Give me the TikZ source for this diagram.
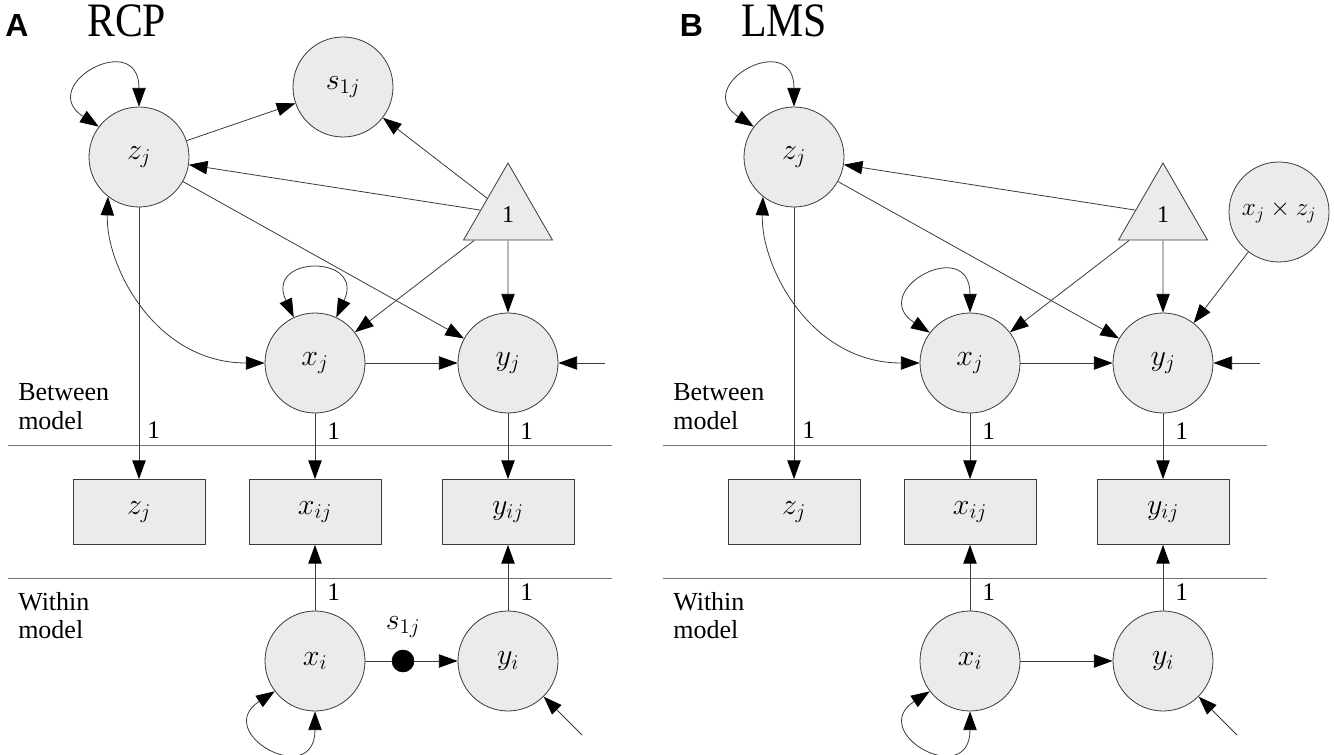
\RequirePackage{fix-cm}
\documentclass[tikz,border=0pt]{standalone}
\usepackage{fontspec}
\setmainfont{Liberation Serif}
\newfontfamily\labsans{Liberation Sans}
\usetikzlibrary{arrows.meta,shapes.geometric}
\definecolor{nodefill}{HTML}{EBEBEB}
\definecolor{edgecol}{HTML}{3A3A3A}
\definecolor{sepcol}{HTML}{707070}
\newcommand\mathsz{\fontsize{22.5pt}{25pt}\selectfont}
\begin{document}
\begin{tikzpicture}[x=0.75pt,y=0.75pt,
  lat/.style={circle,draw=edgecol,fill=nodefill,minimum size=75pt,inner sep=0pt,font=\mathsz,line width=0.6pt},
  obs/.style={rectangle,draw=edgecol,fill=nodefill,minimum width=99pt,minimum height=48.75pt,inner sep=0pt,font=\mathsz,line width=0.6pt},
  onetri/.style={regular polygon,regular polygon sides=3,draw=edgecol,fill=nodefill,minimum size=77.1pt,inner sep=0pt,font=\fontsize{18pt}{20pt}\selectfont,line width=0.6pt},
  arr/.style={draw=edgecol,line width=0.6pt,-{Triangle[length=14pt,width=10pt,color=black]}},
  darr/.style={draw=edgecol,line width=0.6pt,{Triangle[length=14pt,width=10pt,color=black]}-{Triangle[length=14pt,width=10pt,color=black]}},
  lineonly/.style={draw=edgecol,line width=0.6pt},
  sepline/.style={draw=sepcol,line width=0.6pt},
  onelab/.style={anchor=west,inner sep=0pt,xshift=9pt,font=\fontsize{19pt}{21pt}\selectfont},
  lvl/.style={anchor=base west,inner sep=0pt,font=\fontsize{19.5pt}{21pt}\selectfont},
  panlab/.style={anchor=base,inner sep=0pt,font=\labsans\bfseries\fontsize{24pt}{26pt}\selectfont},
  pantitle/.style={anchor=base west,inner sep=0pt,font=\fontsize{36pt}{38pt}\selectfont},
  dotnode/.style={circle,fill=black,draw=black,minimum size=16.5pt,inner sep=0pt}
]
\useasboundingbox (0,0) rectangle (1334,-755);

% ---------------- Panel A ----------------
\node[panlab] (a-lab) at (17,-37) {A};
\node[pantitle] (a-title) at (87,-37) {\scalebox{0.87}[1]{RCP}};

\node[lat] (a-zj) at (139,-157) {$z_j$};
\node[lat] (a-s) at (343,-87) {$s_{1j}$};
\node[onetri] (a-one) at (508,-214.4) {1};
\node[lat] (a-xj) at (315,-363) {$x_j$};
\node[lat] (a-yj) at (508,-363) {$y_j$};
\node[obs] (a-zr) at (139,-512) {$z_j$};
\node[obs] (a-xr) at (315,-512) {$x_{ij}$};
\node[obs] (a-yr) at (508,-512) {$y_{ij}$};
\node[lat] (a-xi) at (315,-661) {$x_i$};
\node[lat] (a-yi) at (508,-661) {$y_i$};
\node[dotnode] (a-dot) at (403,-661) {};
\node[font=\mathsz,inner sep=0pt] (a-sl) at (403,-627) {$s_{1j}$};
\coordinate (a-ryj) at (605,-363);
\coordinate (a-ryi) at (582,-735);

\node[lvl] (a-b1) at (18,-400) {Between};
\node[lvl] (a-b2) at (18,-429) {model};
\node[lvl] (a-w1) at (18,-610) {Within};
\node[lvl] (a-w2) at (18,-638) {model};
\draw[sepline] (8,-445) -- (612,-445);
\draw[sepline] (8,-578) -- (612,-578);

\draw[darr] (a-zj.143) to[out=147,in=90,out distance=57pt,in distance=59pt] (a-zj.90);
\draw[arr] (a-zj) -- (a-s);
\draw[arr] (a-one) -- (a-s);
\draw[arr] (a-one) -- (a-zj);
\draw[arr] (a-one) -- (a-xj);
\draw[arr] (a-one) -- (a-yj);
\draw[arr] (a-zj) -- (a-yj);
\draw[darr] (a-zj.232) to[out=-92,in=180,out distance=52pt,in distance=82pt] (a-xj.west);
\draw[darr] (a-xj.115) to[out=115,in=65,out distance=52pt,in distance=52pt] (a-xj.65);
\draw[arr] (a-xj) -- (a-yj);
\draw[arr] (a-ryj) -- (a-yj);
\draw[arr] (a-zj) -- node[onelab,pos=0.82,xshift=-3pt]{1} (a-zr);
\draw[arr] (a-xj) -- node[onelab,pos=0.27]{1} (a-xr);
\draw[arr] (a-yj) -- node[onelab,pos=0.27]{1} (a-yr);
\draw[arr] (a-xi) -- node[onelab,pos=0.28]{1} (a-xr);
\draw[arr] (a-yi) -- node[onelab,pos=0.28]{1} (a-yr);
\draw[lineonly] (a-xi) -- (a-dot);
\draw[arr] (a-dot) -- (a-yi);
\draw[darr] (a-xi.217) to[out=213,in=270,out distance=57pt,in distance=59pt] (a-xi.270);
\draw[arr] (a-ryi) -- (a-yi);

% ---------------- Panel B ----------------
\begin{scope}[shift={(655,0)}]
\node[panlab] (b-lab) at (36.5,-37) {B};
\node[pantitle] (b-title) at (86,-37) {\scalebox{0.87}[1]{LMS}};

\node[lat] (b-zj) at (139,-157) {$z_j$};
\node[onetri] (b-one) at (508,-214.4) {1};
\node[lat,font=\fontsize{19pt}{21pt}\selectfont] (b-xz) at (624,-212) {$x_j \times z_j$};
\node[lat] (b-xj) at (315,-363) {$x_j$};
\node[lat] (b-yj) at (508,-363) {$y_j$};
\node[obs] (b-zr) at (139,-512) {$z_j$};
\node[obs] (b-xr) at (315,-512) {$x_{ij}$};
\node[obs] (b-yr) at (508,-512) {$y_{ij}$};
\node[lat] (b-xi) at (315,-661) {$x_i$};
\node[lat] (b-yi) at (508,-661) {$y_i$};
\coordinate (b-ryj) at (605,-363);
\coordinate (b-ryi) at (582,-735);

\node[lvl] (b-b1) at (18,-400) {Between};
\node[lvl] (b-b2) at (18,-429) {model};
\node[lvl] (b-w1) at (18,-610) {Within};
\node[lvl] (b-w2) at (18,-638) {model};
\draw[sepline] (8,-445) -- (612,-445);
\draw[sepline] (8,-578) -- (612,-578);

\draw[darr] (b-zj.143) to[out=147,in=90,out distance=57pt,in distance=59pt] (b-zj.90);
\draw[arr] (b-one) -- (b-zj);
\draw[arr] (b-one) -- (b-xj);
\draw[arr] (b-one) -- (b-yj);
\draw[arr] (b-zj) -- (b-yj);
\draw[arr] (b-xz) -- (b-yj);
\draw[darr] (b-zj.232) to[out=-92,in=180,out distance=52pt,in distance=82pt] (b-xj.west);
\draw[darr] (b-xj.143) to[out=147,in=90,out distance=57pt,in distance=59pt] (b-xj.90);
\draw[arr] (b-xj) -- (b-yj);
\draw[arr] (b-ryj) -- (b-yj);
\draw[arr] (b-zj) -- node[onelab,pos=0.82,xshift=-3pt]{1} (b-zr);
\draw[arr] (b-xj) -- node[onelab,pos=0.27]{1} (b-xr);
\draw[arr] (b-yj) -- node[onelab,pos=0.27]{1} (b-yr);
\draw[arr] (b-xi) -- node[onelab,pos=0.28]{1} (b-xr);
\draw[arr] (b-yi) -- node[onelab,pos=0.28]{1} (b-yr);
\draw[arr] (b-xi) -- (b-yi);
\draw[darr] (b-xi.217) to[out=213,in=270,out distance=57pt,in distance=59pt] (b-xi.270);
\draw[arr] (b-ryi) -- (b-yi);
\end{scope}
\end{tikzpicture}
\end{document}
